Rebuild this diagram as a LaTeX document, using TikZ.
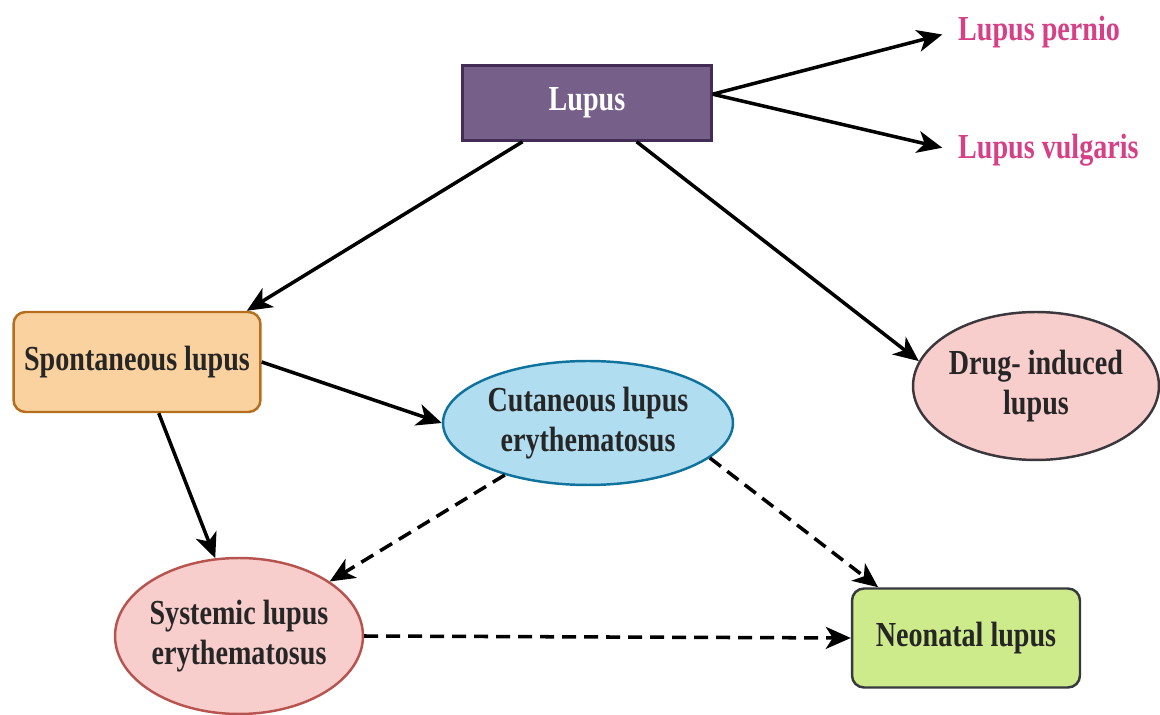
\documentclass[tikz,border=0pt]{standalone}
\usepackage{fontspec}
\setmainfont{Liberation Serif}[FakeStretch=0.8]
\usetikzlibrary{shapes.geometric,arrows.meta}

\definecolor{lupusfill}{RGB}{118,96,138}
\definecolor{lupusdraw}{RGB}{67,45,87}
\definecolor{pinktext}{RGB}{214,64,134}
\definecolor{spontfill}{RGB}{250,210,160}
\definecolor{spontdraw}{RGB}{180,110,30}
\definecolor{drugfill}{RGB}{248,206,204}
\definecolor{drugdraw}{RGB}{60,55,60}
\definecolor{cutfill}{RGB}{177,221,240}
\definecolor{cutdraw}{RGB}{16,115,158}
\definecolor{sysfill}{RGB}{248,206,204}
\definecolor{sysdraw}{RGB}{184,84,80}
\definecolor{neofill}{RGB}{205,235,139}
\definecolor{neodraw}{RGB}{54,57,61}

\begin{document}
\begin{tikzpicture}[x=0.02cm, y=-0.02cm,
  every node/.style={font=\fontsize{20}{22.7}\selectfont\bfseries, text=black!85, align=center},
  box/.style={rectangle, draw, line width=1.4pt},
  oval/.style={ellipse, draw, line width=1.4pt, inner xsep=-4pt, inner ysep=0pt},
  link/.style={line width=2pt, -{Stealth[length=0.5cm, width=0.44cm, inset=0.14cm]}},
  hint/.style={link, dash pattern=on 0.28cm off 0.16cm}]
  \useasboundingbox (0,0) rectangle (1160,715);

  % Define vertices
  \node[box, fill=lupusfill, draw=lupusdraw, text=white, minimum width=4.98cm, minimum height=1.5cm] (lupus) at (587,103) {Lupus};
  \node[text=pinktext, anchor=west] (pernio) at (952,32) {Lupus pernio};
  \node[text=pinktext, anchor=west] (vulgaris) at (952,150) {Lupus vulgaris};
  \node[box, rounded corners=0.24cm, fill=spontfill, draw=spontdraw, minimum width=4.94cm, minimum height=2cm] (spont) at (137,362) {Spontaneous lupus};
  \node[oval, fill=drugfill, draw=drugdraw, minimum width=4.92cm, minimum height=2.96cm] (drug) at (1036,386) {Drug- induced\\lupus};
  \node[oval, fill=cutfill, draw=cutdraw, minimum width=5.8cm, minimum height=2.48cm] (cut) at (588,423) {Cutaneous lupus\\erythematosus};
  \node[oval, fill=sysfill, draw=sysdraw, minimum width=4.96cm, minimum height=3.12cm] (sys) at (239,636) {Systemic lupus\\erythematosus};
  \node[box, rounded corners=0.24cm, fill=neofill, draw=neodraw, minimum width=4.56cm, minimum height=1.98cm] (neo) at (966,638) {Neonatal lupus};

  % Draw edges
  \draw[link, shorten >=0.2cm] (lupus.4) -- (pernio.west);
  \draw[link, shorten >=0.2cm] (lupus.4) -- (vulgaris.west);
  \draw[link] (lupus.211) -- (spont.25);
  \draw[link] (lupus.322) -- (drug.168);
  \draw[link] (spont.east) -- (cut.west);
  \draw[link] (spont.293) -- (sys.107);

  % Dashed edges
  \draw[hint] (cut.212) -- (sys.31);
  \draw[hint] (cut.344) -- (neo.150);
  \draw[hint] (sys.east) -- (neo.west);
\end{tikzpicture}
\end{document}
